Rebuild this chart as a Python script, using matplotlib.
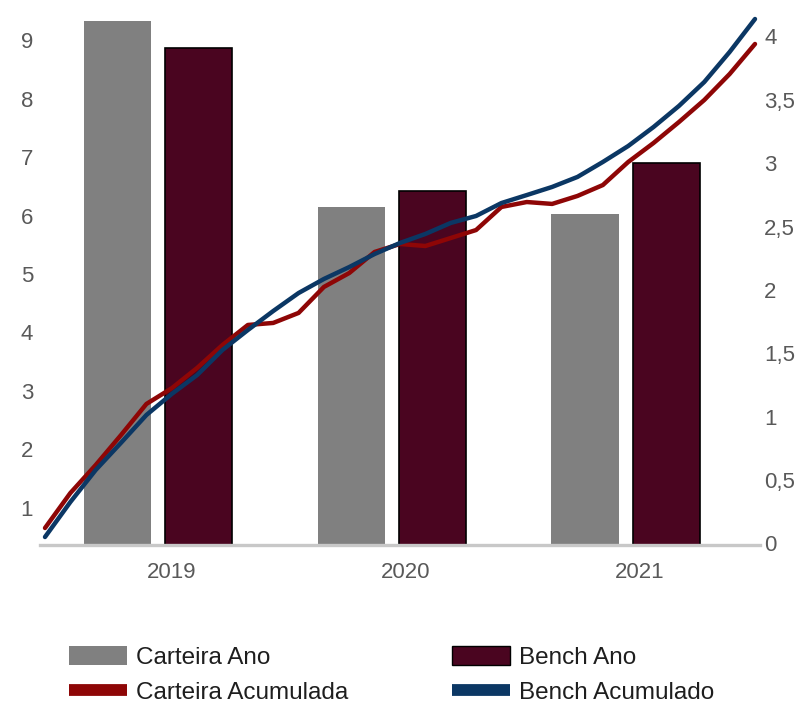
import numpy as np
import matplotlib
matplotlib.use("Agg")
import matplotlib.pyplot as plt
from matplotlib.ticker import FuncFormatter, FixedLocator
from matplotlib.lines import Line2D
from matplotlib.patches import Patch

# ---------------- data ----------------
years = ["2019", "2020", "2021"]
carteira_ano = [9.33, 6.15, 6.03]
bench_ano = [8.87, 6.42, 6.90]

carteira_acum = [0.122, 0.398, 0.619, 0.856, 1.101, 1.225, 1.385, 1.566, 1.724,
                 1.740, 1.819, 2.024, 2.134, 2.300, 2.363, 2.347, 2.410, 2.473,
                 2.655, 2.694, 2.679, 2.742, 2.828, 3.010, 3.160, 3.325, 3.499,
                 3.704, 3.941]
bench_acum = [0.051, 0.327, 0.580, 0.795, 1.014, 1.180, 1.329, 1.527, 1.684,
              1.834, 1.976, 2.087, 2.181, 2.284, 2.371, 2.442, 2.529, 2.584,
              2.686, 2.749, 2.813, 2.892, 3.010, 3.136, 3.286, 3.452, 3.641,
              3.878, 4.138]
periods = np.arange(len(carteira_acum))

left_ticks = [1, 2, 3, 4, 5, 6, 7, 8, 9]
right_ticks = [0, 0.5, 1, 1.5, 2, 2.5, 3, 3.5, 4]

# ---------------- style ----------------
plt.rcParams['font.family'] = ['Liberation Sans', 'DejaVu Sans']
GRAY = '#808080'
DARK = '#4a0520'
RED = '#8e0606'
BLUE = '#0b3764'
TICK = '#595959'

W, H = 805, 706
fig = plt.figure(figsize=(W / 100, H / 100), dpi=100)
rect = [40 / W, (H - 545) / H, 720 / W, (545 - 10) / H]
ax1 = fig.add_axes(rect)

x = np.arange(len(years))
bw = 0.287
ax1.bar(x - 0.173, carteira_ano, width=bw, color=GRAY, edgecolor='none', zorder=2)
ax1.bar(x + 0.175, bench_ano, width=bw, color=DARK, edgecolor='black',
        linewidth=1.2, zorder=2)

ax1.set_xlim(-0.505, 2.576)
ax1.set_ylim(0.36, 9.52)
ax1.yaxis.set_major_locator(FixedLocator(left_ticks))
ax1.set_xticks(x + 0.06)
ax1.set_xticklabels(years)
for s in ['top', 'right', 'left']:
    ax1.spines[s].set_visible(False)
ax1.spines['bottom'].set_color('#c8c8c8')
ax1.spines['bottom'].set_linewidth(2.4)
ax1.tick_params(axis='y', length=0, pad=5, labelsize=16, labelcolor=TICK)
ax1.tick_params(axis='x', length=0, pad=12, labelsize=16, labelcolor=TICK)

# lines axis
ax2 = fig.add_axes(rect)
ax2.patch.set_visible(False)
for s in ax2.spines.values():
    s.set_visible(False)
ax2.plot(periods, carteira_acum, color=RED, lw=3.2, solid_capstyle='round',
         solid_joinstyle='round', zorder=3)
ax2.plot(periods, bench_acum, color=BLUE, lw=3.2, solid_capstyle='round',
         solid_joinstyle='round', zorder=4)
ax2.set_xlim(-0.197, 28.197)
ax2.set_ylim(-0.012, 4.209)
ax2.xaxis.set_visible(False)
ax2.yaxis.tick_right()
ax2.yaxis.set_major_locator(FixedLocator(right_ticks))
ax2.yaxis.set_major_formatter(FuncFormatter(lambda v, p: f"{v:g}".replace('.', ',')))
ax2.tick_params(axis='y', length=0, pad=3, labelsize=16, labelcolor=TICK)

# legends
fs = 17.5
common = dict(frameon=False, fontsize=fs, handlelength=2.39, handleheight=0.78,
              handletextpad=0.38, labelspacing=0.5, borderpad=0, borderaxespad=0,
              loc='center left', labelcolor='#1e1e1e')
h1 = [Patch(facecolor=GRAY, edgecolor='none'),
      Line2D([0], [0], color=RED, lw=8.5, solid_capstyle='butt')]
leg1 = fig.legend(h1, ["Carteira Ano", "Carteira Acumulada"],
                  bbox_to_anchor=(69 / W, 1 - 675 / H), **common)
h2 = [Patch(facecolor=DARK, edgecolor='black', linewidth=1.0),
      Line2D([0], [0], color=BLUE, lw=8.5, solid_capstyle='butt')]
leg2 = fig.legend(h2, ["Bench Ano", "Bench Acumulado"],
                  bbox_to_anchor=(452 / W, 1 - 675 / H), **common)

fig.savefig("out.png", dpi=100)
